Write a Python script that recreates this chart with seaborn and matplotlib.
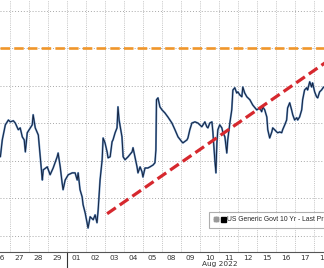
import numpy as np
import pandas as pd
import matplotlib
matplotlib.use("Agg")
import matplotlib.pyplot as plt
import seaborn as sns
from matplotlib.lines import Line2D
from matplotlib.legend_handler import HandlerTuple
from matplotlib.transforms import blended_transform_factory

# ---- data (trading-day position, yield %) ----
day_labels = ["26", "27", "28", "29", "01", "02", "03", "04", "05",
              "08", "09", "10", "11", "12", "15", "16", "17", "18"]
month_label = "Aug 2022"
series_name = "US Generic Govt 10 Yr - Last Price"

t = [0.52, 0.62, 0.78, 0.94, 1.04, 1.20, 1.30, 1.46, 1.56, 1.67, 1.77, 1.83, 1.93,
     2.09, 2.19, 2.24, 2.35, 2.51, 2.61, 2.72, 2.77, 2.98,
     3.13, 3.29, 3.40, 3.50, 3.55, 3.66, 3.76, 3.81, 3.92,
     4.08, 4.29, 4.44, 4.55, 4.60, 4.70, 4.81, 4.86, 4.97,
     5.07, 5.12, 5.23, 5.39, 5.49, 5.59, 5.65, 5.75, 5.86, 5.91,
     6.01, 6.12, 6.17, 6.28, 6.38, 6.43, 6.54, 6.64, 6.69, 6.75, 6.90, 6.96,
     7.06, 7.22, 7.43, 7.48, 7.58, 7.69, 7.74, 7.85, 7.95,
     8.00, 8.11, 8.26, 8.37, 8.53, 8.63, 8.68, 8.71, 8.79, 8.89,
     9.00, 9.15, 9.31, 9.52, 9.68, 9.84,
     10.04, 10.10, 10.31, 10.36, 10.46, 10.57, 10.73, 10.88,
     11.09, 11.25, 11.35, 11.41, 11.51, 11.62, 11.67, 11.77, 11.83, 11.88, 11.93,
     12.03, 12.14, 12.19, 12.30, 12.40, 12.45, 12.56, 12.66, 12.72, 12.82, 12.92, 12.98,
     13.08, 13.19, 13.24, 13.34, 13.45, 13.61, 13.76, 13.97,
     14.13, 14.23, 14.29, 14.39, 14.50, 14.55, 14.65, 14.76, 14.81, 14.91,
     15.02, 15.07, 15.18, 15.28, 15.33, 15.44, 15.54, 15.59, 15.70, 15.80, 15.86, 15.96,
     16.07, 16.12, 16.22, 16.33, 16.38, 16.48, 16.59, 16.64, 16.75, 16.85, 16.90,
     17.01, 17.11, 17.17, 17.27, 17.37, 17.48]

yld = [2.711, 2.756, 2.796, 2.809, 2.804, 2.807, 2.801, 2.783, 2.788, 2.764, 2.756, 2.724, 2.775,
       2.788, 2.796, 2.823, 2.788, 2.769, 2.711, 2.649, 2.676, 2.684,
       2.663, 2.681, 2.697, 2.711, 2.721, 2.684, 2.641, 2.623, 2.649,
       2.663, 2.668, 2.668, 2.649, 2.668, 2.623, 2.604, 2.583, 2.561,
       2.535, 2.521, 2.551, 2.543, 2.556, 2.535, 2.569, 2.649, 2.703, 2.761,
       2.748, 2.724, 2.708, 2.711, 2.751, 2.756, 2.775, 2.788, 2.844, 2.809, 2.764, 2.711,
       2.703, 2.711, 2.724, 2.735, 2.711, 2.684, 2.668, 2.684, 2.671,
       2.657, 2.681, 2.681, 2.684, 2.689, 2.695, 2.729, 2.863, 2.868, 2.844,
       2.836, 2.828, 2.817, 2.801, 2.783, 2.764,
       2.751, 2.748, 2.756, 2.761, 2.783, 2.801, 2.804, 2.801,
       2.791, 2.804, 2.791, 2.788, 2.801, 2.804, 2.777, 2.703, 2.668, 2.748, 2.783,
       2.796, 2.788, 2.777, 2.764, 2.721, 2.756, 2.801, 2.836, 2.889, 2.895, 2.881, 2.884,
       2.876, 2.871, 2.897, 2.881, 2.871, 2.863, 2.849, 2.836,
       2.841, 2.831, 2.844, 2.836, 2.817, 2.783, 2.761, 2.777, 2.788, 2.783,
       2.777, 2.775, 2.777, 2.775, 2.783, 2.796, 2.809, 2.841, 2.855, 2.836, 2.823, 2.809,
       2.815, 2.809, 2.817, 2.836, 2.863, 2.889, 2.895, 2.889, 2.911, 2.897, 2.908,
       2.884, 2.871, 2.868, 2.884, 2.889, 2.897]

resistance_level = 3.00
trend_t = [6.12, 17.60]
trend_v = [2.559, 2.963]
grid_levels = [2.5, 2.6, 2.7, 2.8, 2.9, 3.0, 3.1]

# ---- figure ----
sns.set_style("white")
plt.rcParams["font.family"] = ["DejaVu Sans"]

fig = plt.figure(figsize=(3.24, 2.68), dpi=100)
fig.patch.set_facecolor("white")
ax = fig.add_axes([0, 16 / 268, 1, 252 / 268])
ax.set_facecolor("white")

df = pd.DataFrame({"t": t, "yield": yld})
sns.lineplot(data=df, x="t", y="yield", sort=False, estimator=None,
             color="#6a93c4", lw=1.4, ax=ax, zorder=3)
sns.lineplot(data=df, x="t", y="yield", sort=False, estimator=None,
             color="#14233f", lw=0.7, ax=ax, zorder=4)

ax.axhline(resistance_level, color="#f0962a", lw=1.9,
           linestyle=(0, (3.6, 1.6)), zorder=5)
ax.plot(trend_t, trend_v, color="#d6282e", lw=2.3,
        linestyle=(0, (3.3, 1.5)), zorder=6, solid_capstyle="butt")

ax.set_xlim(0.516, 17.48)
ax.set_ylim(2.457, 3.129)

ax.set_xticks(np.arange(len(day_labels)) + 0.5)
ax.set_xticklabels(day_labels)
ax.set_xticks(np.arange(1, len(day_labels)), minor=True)
ax.set_yticks(grid_levels)
ax.set_yticklabels([])
ax.grid(False)
ax.grid(which="minor", axis="x", color="#c4c4c4", lw=0.7, linestyle=(0, (1, 1.2)))
ax.grid(which="major", axis="y", color="#a8a8a8", lw=0.7, linestyle=(0, (1, 2)))
ax.tick_params(axis="both", which="both", length=0)
ax.tick_params(axis="x", labelsize=5.3, colors="#333333", pad=2.5)
ax.set_xlabel("")
ax.set_ylabel("")

for s in ["top", "right", "left"]:
    ax.spines[s].set_visible(False)
ax.spines["bottom"].set_color("#555555")
ax.spines["bottom"].set_linewidth(0.8)

trans = blended_transform_factory(ax.transData, ax.transAxes)
ax.plot([4, 4], [0, -16 / 252], color="#333333", lw=0.8, transform=trans, clip_on=False)
ax.text(12.03, -0.046, month_label, transform=trans, ha="center", va="center",
        fontsize=5.3, color="#333333")

icon = Line2D([], [], marker=r"$\boxplus$", color="#999999", ls="none", markersize=3.5)
square = Line2D([], [], marker="s", color="black", ls="none", markersize=3.6)
leg = ax.legend(handles=[(icon, square)], labels=[series_name],
                handler_map={tuple: HandlerTuple(ndivide=None, pad=0.15)},
                loc="lower left", bbox_to_anchor=(0.645, 0.095),
                frameon=True, fancybox=False,
                prop={"family": "Liberation Sans", "size": 4.9},
                handlelength=1.7, handletextpad=0.25, borderpad=0.7,
                borderaxespad=0)
leg.get_frame().set_edgecolor("#9a9a9a")
leg.get_frame().set_linewidth(0.8)

fig.savefig("out.png", dpi=100, facecolor="white")
